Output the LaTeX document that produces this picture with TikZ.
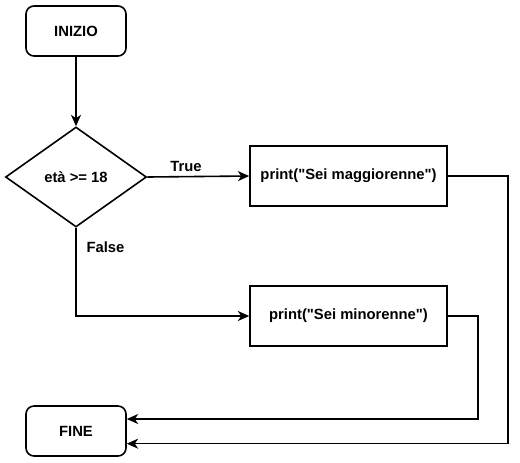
\documentclass[tikz,border=0pt]{standalone}
\usepackage{fontspec}
\setmainfont{Liberation Sans}
\usepackage{tikz}
\usetikzlibrary{shapes.geometric, arrows.meta}

\tikzset{
  stroke/.style={line width=1.2pt},
  terminal/.style={draw, stroke, rounded corners=6pt, minimum width=75pt, minimum height=37.5pt, inner sep=0pt},
  decision/.style={draw, stroke, diamond, aspect=1.4, minimum width=105.75pt, minimum height=75pt, inner sep=0pt},
  process/.style={draw, stroke, rectangle, minimum width=147.75pt, minimum height=45pt, inner sep=0pt},
  flow/.style={stroke, -{Stealth[length=8.5pt, width=7.5pt, inset=2.5pt]}}
}

\begin{document}
\begin{tikzpicture}[x=0.75pt, y=-0.75pt, font=\fontsize{11.1}{13}\selectfont\bfseries]
\useasboundingbox (0,0) rectangle (520,462);

\node[terminal] (inizio) at (76,31) {INIZIO};
\node[decision] (cond) at (76,177) {età >= 18};
\node[process] (yes) at (348.5,176) {print(\textquotedbl Sei maggiorenne\textquotedbl)};
\node[process] (no) at (348.5,316) {print(\textquotedbl Sei minorenne\textquotedbl)};
\node[terminal] (fine) at (76,431) {FINE};

\draw[flow] (inizio) -- (cond);
\draw[flow] (cond.east) -- node[pos=0.38, above] {True} (yes.west);
\draw[flow] (cond.south) |- node[pos=0.11, right, xshift=4pt] {False} (no.west);

\draw[flow] (yes.east) -- ++(60,0) |- ([yshift=-9.5pt]fine.east);
\draw[flow] (no.east) -- ++(30,0) |- ([yshift=9pt]fine.east);
\end{tikzpicture}
\end{document}
